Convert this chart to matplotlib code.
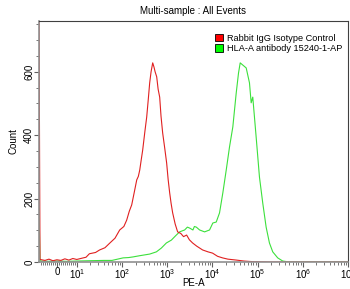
import numpy as np
import matplotlib.pyplot as plt
from matplotlib.patches import Patch

plt.rcParams['font.family'] = ['Liberation Sans', 'DejaVu Sans']
plt.rcParams['mathtext.fontset'] = 'custom'
plt.rcParams['mathtext.rm'] = 'Liberation Sans'
plt.rcParams['mathtext.it'] = 'Liberation Sans'

# PE-A values and counts
red_x = [-9, -8.5, -6, -4, -2, 0, 2, 4, 6, 8, 10, 13, 16, 19, 26, 32, 42, 54, 70, 89,
         110, 127, 145, 164, 190, 212, 230, 247, 265, 287, 320, 352, 380, 410, 440,
         478, 510, 540, 586, 630, 682, 730, 794, 880, 973, 1050, 1135, 1220, 1321,
         1500, 1702, 2000, 2300, 2690, 3100, 3650, 4500, 6070, 8000, 10090, 13000,
         16750, 22000, 34200, 50000, 80000, 2e5, 1e7]
red_y = [800, 8, 5, 9, 4, 7, 5, 10, 6, 11, 8, 12, 15, 26, 30, 38, 45, 60, 75, 101,
         112, 132, 160, 180, 225, 259, 270, 290, 320, 353, 410, 457, 510, 565, 600,
         628, 615, 600, 584, 545, 520, 460, 407, 360, 312, 260, 218, 185, 155,
         120, 95, 90, 80, 85, 70, 60, 50, 38, 32, 28, 18,
         13, 9, 6, 3, 1, 0, 0]

green_x = [-9, -8.5, -5, 0, 5, 10, 19, 40, 60, 106, 140, 175, 250, 410, 577, 743, 959,
           1236, 1592, 1884, 2430, 2800, 3133, 3707, 4000, 4406, 5212, 6720, 8650,
           10230, 12160, 14390, 17020, 20230, 23930, 28310, 33650, 37840, 41220,
           47100, 55960, 66100, 72100, 78200, 92900, 109900, 130000, 154500, 182800,
           216300, 278600, 359700, 5e5, 1e7]
green_y = [170, 3, 2, 3, 2, 3, 4, 5, 5, 13, 14, 16, 20, 25, 32, 44, 60,
           69, 85, 95, 101, 110, 107, 101, 112, 110, 101, 95, 101,
           123, 126, 155, 218, 290, 363, 426, 533, 596, 628,
           621, 612, 565, 502, 520, 394, 268, 186, 110, 60,
           32, 13, 3, 0, 0]

decades = [0, 1e1, 1e2, 1e3, 1e4, 1e5, 1e6, 1e7]
decade_labels = ['0', '$10^{1}$', '$10^{2}$', '$10^{3}$', '$10^{4}$', '$10^{5}$', '$10^{6}$', '$10^{7}$']

fig = plt.figure(figsize=(3.5, 2.89), dpi=100)
ax = fig.add_axes([39/350, 27/289, 309/350, 241/289])

ax.plot(green_x, green_y, color='#3ce03c', lw=0.8, label='HLA-A antibody 15240-1-AP')
ax.plot(red_x, red_y, color='#e02020', lw=0.8, label='Rabbit IgG Isotype Control')

ax.set_xscale('symlog', linthresh=10, linscale=0.396)
ax.set_xlim(-9, 1e7)
ax.set_ylim(0, 760)

ax.set_xticks(decades)
ax.set_xticklabels(decade_labels)
minor = list(range(-8, 10))
for k in range(1, 7):
    minor += [m * 10**k for m in range(2, 10)]
ax.set_xticks(minor, minor=True)

ax.set_yticks([0, 200, 400, 600])
ax.set_yticks(np.arange(0, 751, 50), minor=True)
for lbl in ax.get_yticklabels():
    lbl.set_rotation(90)
    lbl.set_va('center')

ax.tick_params(axis='both', which='major', labelsize=7, length=3.5, width=0.8, color='#606060', pad=1)
ax.tick_params(axis='both', which='minor', length=2.5, width=0.6, color='#606060')
ax.tick_params(axis='x', which='major', pad=0)
ax.tick_params(axis='y', which='major', pad=0)

for s in ['left', 'bottom']:
    ax.spines[s].set_color('#909090')
    ax.spines[s].set_linewidth(1.2)
for s in ['top', 'right']:
    ax.spines[s].set_color('#404040')
    ax.spines[s].set_linewidth(0.8)

ax.set_xlabel('PE-A', fontsize=7)
ax.xaxis.set_label_coords(0.5, -0.068)
ax.set_ylabel('Count', fontsize=7)
ax.yaxis.set_label_coords(-0.066, 0.5)
ax.set_title('Multi-sample : All Events', fontsize=7, pad=5)

handles = [Patch(facecolor='#ff0000', edgecolor='black', lw=0.6, label='Rabbit IgG Isotype Control'),
           Patch(facecolor='#00ff00', edgecolor='black', lw=0.6, label='HLA-A antibody 15240-1-AP')]
ax.legend(handles=handles, loc='upper right', bbox_to_anchor=(1.0, 0.97), frameon=False,
          fontsize=6.6, handlelength=0.9, handleheight=0.9, labelspacing=0.15,
          handletextpad=0.4, borderaxespad=0.2)

fig.savefig('out.png', dpi=100)
